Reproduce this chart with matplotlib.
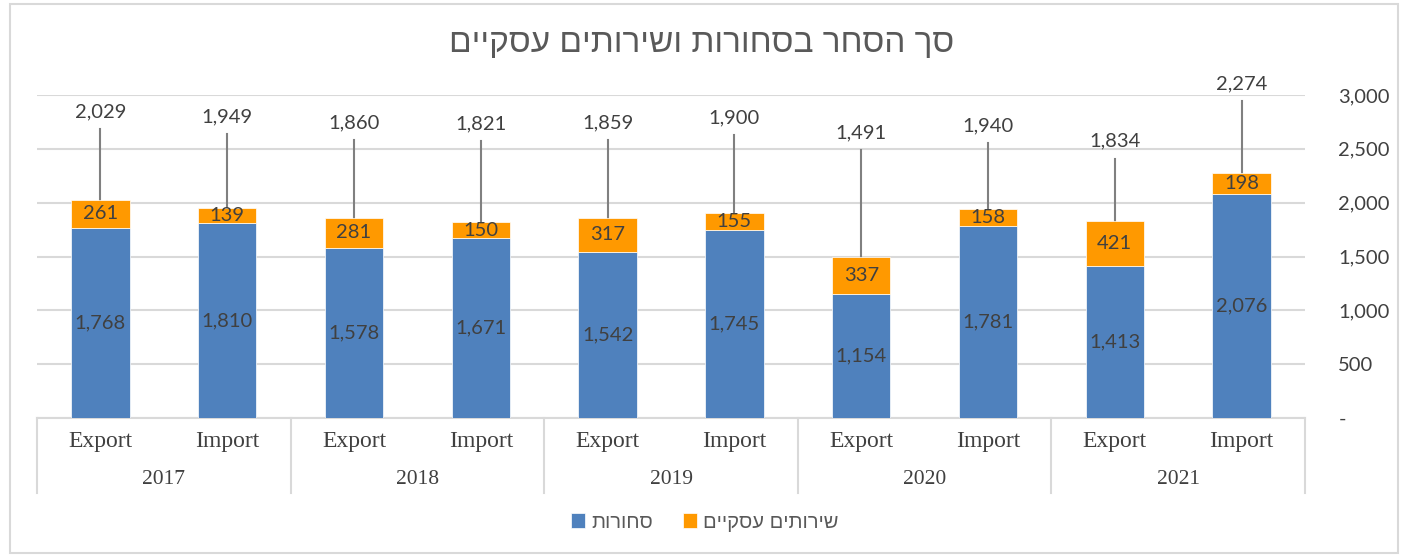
import matplotlib
matplotlib.use('Agg')
import matplotlib.pyplot as plt
from matplotlib.patches import Rectangle
from matplotlib.transforms import blended_transform_factory
import numpy as np

# נתונים
years = ['2017', '2018', '2019', '2020', '2021']
flows = ['Export', 'Import']
goods = [1768, 1810, 1578, 1671, 1542, 1745, 1154, 1781, 1413, 2076]
services = [261, 139, 281, 150, 317, 155, 337, 158, 421, 198]
totals = [2029, 1949, 1860, 1821, 1859, 1900, 1491, 1940, 1834, 2274]

title = 'סך הסחר בסחורות ושירותים עסקיים'
goods_name = 'סחורות'
services_name = 'שירותים עסקיים'

# where the total labels sit (leader lines run up to them)
total_label_y = [2840, 2795, 2745, 2730, 2745, 2785, 2645, 2715, 2570, 3100]

blue = '#4F81BD'
orange = '#FF9900'
txt = '#404040'
grid = '#D9D9D9'


def heb(s):
    # matplotlib has no bidi, flip it by hand
    return s[::-1]


fig = plt.figure(figsize=(14.03, 5.57), dpi=100)
ax = fig.add_axes([37 / 1403, 1 - 418 / 557, (1305 - 37) / 1403, (418 - 95) / 557])

x = np.arange(len(goods))
w = 0.46
ax.bar(x, goods, w, color=blue, edgecolor='white', linewidth=0.5, label=heb(goods_name), zorder=3)
ax.bar(x, services, w, bottom=goods, color=orange, edgecolor='white', linewidth=0.5,
       label=heb(services_name), zorder=3)

for i in range(len(goods)):
    ax.text(x[i], goods[i] / 2, f'{goods[i]:,}', ha='center', va='center',
            fontsize=14.5, color=txt, family='Lato', zorder=4)
    ax.text(x[i], goods[i] + services[i] / 2, f'{services[i]:,}', ha='center', va='center',
            fontsize=14.5, color=txt, family='Lato', zorder=4)
    top = goods[i] + services[i]
    ax.plot([x[i], x[i]], [top, total_label_y[i] - 160], color='#808080', lw=1.5,
            zorder=2, clip_on=False)
    ax.text(x[i], total_label_y[i], f'{totals[i]:,}', ha='center', va='center',
            fontsize=14.5, color=txt, family='Lato', clip_on=False)

ax.set_ylim(0, 3000)
ax.set_xlim(-0.5, len(goods) - 0.5)
ax.set_yticks(np.arange(0, 3001, 500))
ax.yaxis.tick_right()
ax.set_yticklabels(['-' if v == 0 else f'{v:,}' for v in range(0, 3001, 500)],
                   fontsize=14.5, color=txt, family='Lato', ha='left')
ax.tick_params(axis='y', length=0, pad=24)
ax.grid(axis='y', color=grid, lw=1.5, zorder=0)
ax.set_axisbelow(True)
for s in ['top', 'left', 'right']:
    ax.spines[s].set_visible(False)
ax.spines['bottom'].set_color(grid)
ax.spines['bottom'].set_linewidth(1.5)

# two-level category axis
ax.set_xticks(x)
ax.set_xticklabels(flows * len(years), fontsize=17, color=txt, family='Liberation Serif')
ax.tick_params(axis='x', length=0, pad=9)
tr = blended_transform_factory(ax.transData, ax.transAxes)
hgt = 323
for k in range(len(years) + 1):
    ax.plot([2 * k - 0.5] * 2, [0, -75 / hgt], color=grid, lw=1.5, transform=tr, clip_on=False)
for k, yr in enumerate(years):
    ax.text(2 * k + 0.5, -62 / hgt, yr, ha='center', va='center', fontsize=15.5, color=txt,
            family='Liberation Serif', transform=tr)

fig.text(0.5, 1 - 43 / 557, heb(title), ha='center', va='center', fontsize=24,
         color='#595959', family=['Liberation Sans', 'DejaVu Sans'])

leg = fig.legend(loc='center', bbox_to_anchor=(705 / 1403, 1 - 522 / 557), ncol=2, frameon=False,
                 prop={'family': ['Liberation Sans', 'DejaVu Sans'], 'size': 14.5},
                 handlelength=0.7, handleheight=0.7, handletextpad=0.3, columnspacing=1.5)
for t in leg.get_texts():
    t.set_color('#595959')

fig.patches.append(Rectangle((10 / 1403, 4 / 557), 1388 / 1403, 549 / 557, transform=fig.transFigure,
                             fill=False, edgecolor=grid, lw=1.5))

plt.savefig('out.png', dpi=100)
